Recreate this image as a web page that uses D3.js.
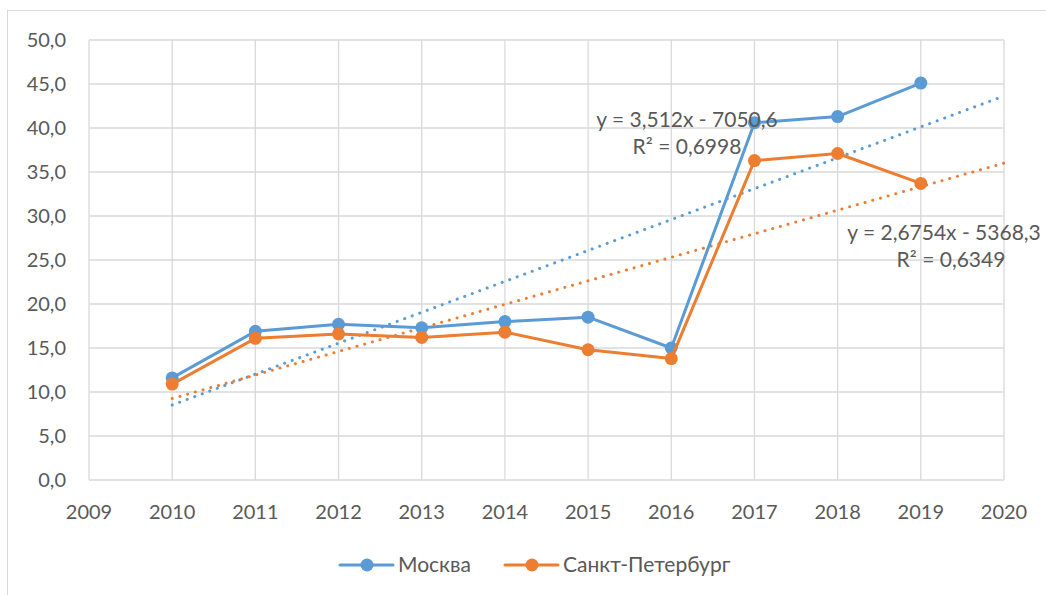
<!DOCTYPE html>
<html>
<head>
<meta charset="utf-8">
<script src="https://cdn.jsdelivr.net/npm/d3@7"></script>
<style>
  body { margin: 0; background: #fff; }
  text { font-family: Lato, "Open Sans", sans-serif; fill: #595959; }
</style>
</head>
<body>
<svg></svg>
<script>
const size = {w: 1046, h: 595};
const margin = {t: 40, r: 42, b: 115, l: 89};

// data
const years = [2010, 2011, 2012, 2013, 2014, 2015, 2016, 2017, 2018, 2019];
const moscow = [11.6, 16.9, 17.7, 17.3, 18.0, 18.5, 15.0, 40.6, 41.3, 45.1];
const spb = [10.9, 16.1, 16.6, 16.2, 16.8, 14.8, 13.8, 36.3, 37.1, 33.7];
const seriesNames = ['Москва', 'Санкт-Петербург'];
const colors = ['#5B9BD5', '#ED7D31'];
// linear trendline coefficients (slope, intercept) and R²
const trendCoef = [[3.512, -7050.6], [2.6754, -5368.3]];
const trendR2 = ['0,6998', '0,6349'];
const trendLabels = ['y = 3,512x - 7050,6', 'y = 2,6754x - 5368,3'];
const yTicks = [0, 5, 10, 15, 20, 25, 30, 35, 40, 45, 50];
const xTicks = d3.range(2009, 2021);

const svg = d3.select('svg').attr('width', size.w).attr('height', size.h);

// chart frame
svg.append('rect')
    .attr('x', 7.5).attr('y', 10.5)
    .attr('width', 1060).attr('height', 620)
    .attr('fill', 'none').attr('stroke', '#d9d9d9');

const x = d3.scaleLinear().domain([2009, 2020]).range([margin.l, size.w - margin.r]);
const y = d3.scaleLinear().domain([0, 50]).range([size.h - margin.b, margin.t]);

const grid = svg.append('g');
grid.selectAll('line.h')
    .data(yTicks)
    .join('line')
    .attr('class', 'h')
    .attr('x1', x(2009)).attr('x2', x(2020))
    .attr('y1', d => y(d)).attr('y2', d => y(d))
    .attr('stroke', '#d9d9d9').attr('stroke-width', 1.3);
grid.selectAll('line.v')
    .data(xTicks)
    .join('line')
    .attr('class', 'v')
    .attr('x1', d => x(d)).attr('x2', d => x(d))
    .attr('y1', y(0)).attr('y2', y(50))
    .attr('stroke', '#d9d9d9').attr('stroke-width', 1.3);

// axis labels
svg.append('g').selectAll('text')
    .data(yTicks)
    .join('text')
    .attr('x', x(2009) - 23)
    .attr('y', d => y(d))
    .attr('dy', '0.35em')
    .attr('text-anchor', 'end')
    .style('font-size', '20px')
    .text(d => d3.format('.1f')(d).replace('.', ','));

svg.append('g').selectAll('text')
    .data(xTicks)
    .join('text')
    .attr('x', d => x(d))
    .attr('y', y(0) + 39)
    .attr('text-anchor', 'middle')
    .style('font-size', '20px')
    .text(d => d);

const line = d3.line().x((d, i) => x(years[i])).y(d => y(d));

// trendlines (dotted), from first year to 2020
const trendG = svg.append('g');
trendCoef.forEach((c, k) => {
    const f = t => c[0] * t + c[1];
    trendG.append('line')
        .attr('x1', x(2010)).attr('y1', y(f(2010)))
        .attr('x2', x(2020)).attr('y2', y(f(2020)))
        .attr('stroke', colors[k])
        .attr('stroke-width', 3)
        .attr('stroke-linecap', 'round')
        .attr('stroke-dasharray', '0.1 7.9');
});

[moscow, spb].forEach((vals, k) => {
    const g = svg.append('g');
    g.append('path')
        .attr('d', line(vals))
        .attr('fill', 'none')
        .attr('stroke', colors[k])
        .attr('stroke-width', 3)
        .attr('stroke-linejoin', 'round');
    g.selectAll('circle')
        .data(vals)
        .join('circle')
        .attr('cx', (d, i) => x(years[i]))
        .attr('cy', d => y(d))
        .attr('r', 6.5)
        .attr('fill', colors[k]);
});

// trendline equation labels
const eqPos = [[687, 127], [944, 240]];
trendLabels.forEach((t, k) => {
    const g = svg.append('g').attr('transform', `translate(${eqPos[k][0]},${eqPos[k][1]})`);
    g.append('text').attr('text-anchor', 'middle').style('font-size', '21px').text(t);
    g.append('text').attr('x', k ? 7 : 0).attr('y', 27).attr('text-anchor', 'middle').style('font-size', '21px')
        .text('R² = ' + trendR2[k]);
});

// legend
const legend = svg.append('g');
const legX = [340, 505];
seriesNames.forEach((name, k) => {
    const g = legend.append('g').attr('transform', `translate(${legX[k]},565)`);
    g.append('line').attr('x1', 0).attr('x2', 53)
        .attr('stroke', colors[k]).attr('stroke-width', 3).attr('stroke-linecap', 'round');
    g.append('circle').attr('cx', 27).attr('r', 6.5).attr('fill', colors[k]);
    g.append('text').attr('x', 58).attr('dy', '0.35em').style('font-size', '21px').text(name);
});
</script>
</body>
</html>
